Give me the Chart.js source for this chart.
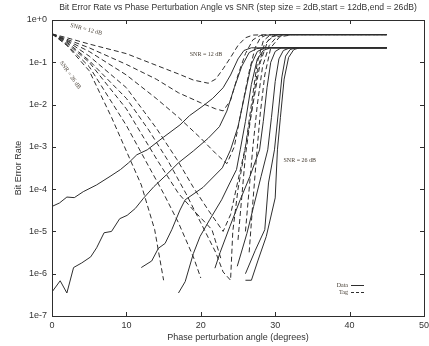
<!DOCTYPE html>
<html>
<head>
<meta charset="utf-8">
<title>Bit Error Rate vs Phase Perturbation Angle</title>
<script src="https://cdn.jsdelivr.net/npm/chart.js@4.4.1/dist/chart.umd.min.js"></script>
<style>
  html, body { margin: 0; padding: 0; background: #fff; }
  #wrap { width: 429px; height: 346px; }
</style>
</head>
<body>
<div id="wrap"><canvas id="berChart" width="429" height="346"></canvas></div>
<script>
// Valori: [unghi (grade), BER]
const snrLevels = [12, 14, 16, 18, 20, 22, 24, 26];

// Curbe "Data" (linie continua)
const data12 = [[0,3.9e-5],[1,4.7e-5],[2,6.5e-5],[3,6.3e-5],[4.2,8.7e-5],[6,1.26e-4],[7.8,2e-4],[9.2,2.9e-4],[10.3,4.2e-4],[11.4,6.5e-4],[12.8,8.5e-4],[15,1.7e-3],[17.2,3.3e-3],[18.5,5.5e-3],[20.3,9.3e-3],[21.6,0.014],[23,0.025],[24,0.05],[25,0.12],[25.8,0.19],[26.8,0.22],[45,0.22]];
const data14 = [[0,3.7e-7],[1.1,6.8e-7],[2,3.5e-7],[2.9,1.4e-6],[4,1.8e-6],[5.2,2.5e-6],[6,4.1e-6],[7,9.3e-6],[8,1e-5],[9.1,2e-5],[10.1,2.4e-5],[11.2,3.5e-5],[12.3,6.1e-5],[13.7,1.15e-4],[15.4,2.2e-4],[17,4.2e-4],[19,8e-4],[21,1.6e-3],[22.5,3e-3],[23.5,7e-3],[24.5,0.025],[25.5,0.08],[26.5,0.17],[27.5,0.21],[28.5,0.22],[45,0.22]];
const data16 = [[12,1.4e-6],[13.4,2e-6],[14.3,4e-6],[15.2,5.2e-6],[16.1,1.1e-5],[17.2,3.2e-5],[17.9,5.6e-5],[20.3,1.1e-4],[22.9,3.2e-4],[24,8.5e-4],[25,3e-3],[26,0.02],[26.8,0.09],[27.6,0.18],[28.6,0.22],[45,0.22]];
const data18 = [[17,3.5e-7],[17.9,6.5e-7],[19,3e-6],[19.9,7.6e-6],[21.2,1.9e-5],[22.8,5.6e-5],[23.9,1.4e-4],[24.8,2.9e-4],[25.3,8.5e-4],[26,4e-3],[26.8,0.03],[27.6,0.12],[28.4,0.19],[29.3,0.22],[45,0.22]];
const data20 = [[21.9,1.35e-6],[22.6,3.2e-6],[23.9,1.3e-5],[25.3,5.6e-5],[26.6,2e-4],[27.9,8.5e-4],[28.4,4e-3],[28.9,0.025],[29.4,0.1],[30,0.18],[30.8,0.22],[45,0.22]];
const data22 = [[24.9,1.5e-6],[26.2,9e-6],[27.1,3.9e-5],[28.1,2e-4],[29,8.5e-4],[29.5,5e-3],[30,0.035],[30.5,0.12],[31.1,0.19],[32,0.22],[45,0.22]];
const data24 = [[26,1e-6],[27.3,3.5e-6],[28.6,1.1e-5],[29.1,1.4e-4],[29.9,8.5e-4],[30.4,6e-3],[30.9,0.045],[31.4,0.14],[32,0.2],[32.8,0.22],[45,0.22]];
const data26 = [[26,7e-7],[26.8,7e-7],[27.7,2.1e-6],[28.8,7.6e-6],[30,6.2e-5],[30.3,8.5e-4],[30.7,5e-3],[31.2,0.04],[31.8,0.13],[32.5,0.2],[33.3,0.22],[45,0.22]];

// Curbe "Tag" (linie intrerupta); null = BER sub 1e-7, nu se deseneaza
const tag12 = [[0,0.47],[2,0.38],[5,0.27],[10,0.16],[14,0.085],[17,0.053],[19,0.038],[21,0.032],[22,0.04],[23,0.07],[24,0.13],[25,0.25],[26,0.38],[27,0.44],[29,0.45],[45,0.45]];
const tag14 = [[0,0.47],[2,0.35],[5,0.22],[10,0.089],[14,0.04],[17,0.019],[20,0.011],[22,0.0079],[23,0.0071],[24,0.0126],[25,0.05],[26,0.16],[27,0.34],[28,0.43],[30,0.45],[45,0.45]];
const tag16 = [[0,0.47],[2,0.33],[5,0.18],[10,0.05],[14,0.014],[17,5e-3],[20,1.6e-3],[22,7e-4],[23.5,4e-4],[24.5,1e-3],[25.5,8e-3],[26.5,0.06],[27.3,0.22],[28,0.38],[28.8,0.44],[30,0.45],[45,0.45]];
const tag18 = [[0,0.47],[2,0.32],[5,0.14],[10,0.025],[14,2.8e-3],[16.8,5e-4],[19,1.1e-4],[21,3.2e-5],[23,1e-5],[24,2.5e-5],[25,1.6e-4],[26,1e-3],[26.8,0.01],[27.6,0.1],[28.4,0.32],[29.3,0.44],[31,0.45],[45,0.45]];
const tag20 = [[0,0.47],[2,0.3],[5,0.11],[10,0.014],[13,2.5e-3],[15.5,5e-4],[18,7.9e-5],[20,1.6e-5],[22,3.2e-6],[23,1.1e-6],[24,7e-7],[24.3,1e-5],[25,1e-4],[26,1e-3],[27,0.01],[28,0.1],[29,0.32],[30,0.44],[31.5,0.45],[45,0.45]];
const tag22 = [[0,0.47],[2,0.28],[5,0.1],[10,7.9e-3],[14.1,5e-4],[17,7.9e-5],[19,3.2e-5],[21.5,1.1e-5],[22.8,2e-6],[23.5,null],[25,6.3e-6],[25.5,6.3e-5],[26,6.3e-4],[26.8,6.3e-3],[27.6,0.063],[28.5,0.25],[29.5,0.4],[30.8,0.45],[45,0.45]];
const tag24 = [[0,0.47],[2,0.26],[5,0.079],[10,3.2e-3],[12.5,5e-4],[15,7.9e-5],[17,1.6e-5],[19,2.5e-6],[20,7.9e-7],[21,null],[26,1e-5],[26.5,1e-4],[27,1e-3],[27.6,0.01],[28.3,0.079],[29.2,0.25],[30.2,0.4],[31.5,0.45],[45,0.45]];
const tag26 = [[0,0.47],[2,0.25],[5,0.063],[8,5e-3],[10.5,5e-4],[12,1.26e-4],[13.8,1.1e-5],[15,7e-7],[16,null],[26.5,3.2e-6],[27,5e-5],[27.5,6.3e-4],[28,6.3e-3],[28.6,0.05],[29.4,0.22],[30.6,0.4],[32.4,0.45],[45,0.45]];

// Axe
const xTickValues = [0, 10, 20, 30, 40, 50];
const xTickLabels = ['0', '10', '20', '30', '40', '50'];
const yTickValues = [1e-7, 1e-6, 1e-5, 1e-4, 1e-3, 1e-2, 1e-1, 1];
const yTickLabels = ['1e-7', '1e-6', '1e-5', '1e-4', '1e-3', '1e-2', '1e-1', '1e+0'];

// Etichete pe grafic: [text, x, BER, rotatie in grade]
const notes = [
    ['SNR = 12 dB', 20.7, 0.15, 0],
    ['SNR = 26 dB', 33.3, 4.7e-4, 0],
    ['SNR = 12 dB', 4.6, 0.6, 15],
    ['SNR = 26 dB', 2.45, 0.05, 55]
];

const chartTitle = 'Bit Error Rate vs Phase Perturbation Angle vs SNR (step size = 2dB,start = 12dB,end = 26dB)';
const sansFont = "'Liberation Sans', Arial, sans-serif";
const serifFont = "'Liberation Serif', 'DejaVu Serif', serif";
const ink = '#2e2e2e';

const dataSeries = [data12, data14, data16, data18, data20, data22, data24, data26];
const tagSeries = [tag12, tag14, tag16, tag18, tag20, tag22, tag24, tag26];

const datasets = [];
snrLevels.forEach((snr, i) => {
    datasets.push({
        label: `Data ${snr} dB`,
        data: dataSeries[i],
        borderColor: ink,
        borderWidth: 1,
        pointRadius: 0,
        tension: 0,
        spanGaps: false
    });
    datasets.push({
        label: `Tag ${snr} dB`,
        data: tagSeries[i],
        borderColor: ink,
        borderWidth: 1,
        borderDash: [5, 3],
        pointRadius: 0,
        tension: 0,
        spanGaps: false
    });
});

// Chenar, tick-uri spre interior, titlu, etichete, legenda (stil gnuplot)
const gnuplotFrame = {
    id: 'gnuplotFrame',
    afterDraw(chart) {
        const { ctx, chartArea: a, scales: { x, y } } = chart;
        ctx.save();
        ctx.strokeStyle = ink;
        ctx.lineWidth = 1;
        ctx.strokeRect(Math.round(a.left) + 0.5, Math.round(a.top) + 0.5,
            Math.round(a.right - a.left), Math.round(a.bottom - a.top));

        ctx.beginPath();
        xTickValues.forEach(v => {
            const px = Math.round(x.getPixelForValue(v)) + 0.5;
            ctx.moveTo(px, a.bottom); ctx.lineTo(px, a.bottom - 4);
            ctx.moveTo(px, a.top); ctx.lineTo(px, a.top + 4);
        });
        yTickValues.forEach(v => {
            const py = Math.round(y.getPixelForValue(v)) + 0.5;
            ctx.moveTo(a.left, py); ctx.lineTo(a.left + 4, py);
            ctx.moveTo(a.right, py); ctx.lineTo(a.right - 4, py);
        });
        ctx.stroke();

        // etichete axa x
        ctx.fillStyle = '#333';
        ctx.font = `9px ${sansFont}`;
        ctx.textAlign = 'center';
        ctx.textBaseline = 'middle';
        xTickValues.forEach((v, i) => {
            ctx.fillText(xTickLabels[i], x.getPixelForValue(v), a.bottom + 10);
        });

        // titlu centrat pe zona de desen
        ctx.font = `8.6px ${sansFont}`;
        ctx.fillText(chartTitle, (a.left + a.right) / 2, 8);

        // etichete SNR
        ctx.fillStyle = '#4a4238';
        ctx.font = `6px ${serifFont}`;
        notes.forEach(([text, nx, ny, rot]) => {
            ctx.save();
            ctx.translate(x.getPixelForValue(nx), y.getPixelForValue(ny));
            ctx.rotate(rot * Math.PI / 180);
            ctx.fillText(text, 0, 0);
            ctx.restore();
        });

        // legenda
        const lx = a.right - 85;
        const ly = a.bottom - 31;
        ctx.textAlign = 'right';
        ctx.fillText('Data', lx + 9, ly);
        ctx.fillText('Tag', lx + 9, ly + 7);
        ctx.beginPath();
        ctx.moveTo(lx + 12, ly + 0.5); ctx.lineTo(lx + 25, ly + 0.5);
        ctx.stroke();
        ctx.setLineDash([3, 2]);
        ctx.beginPath();
        ctx.moveTo(lx + 12, ly + 7.5); ctx.lineTo(lx + 25, ly + 7.5);
        ctx.stroke();
        ctx.restore();
    }
};

const ctx = document.getElementById('berChart').getContext('2d');
new Chart(ctx, {
    type: 'line',
    data: { datasets },
    options: {
        responsive: false,
        animation: false,
        layout: { padding: { top: 20, right: 5, left: 0, bottom: 0 } },
        plugins: {
            legend: { display: false },
            tooltip: { enabled: false },
            title: { display: false }
        },
        scales: {
            x: {
                type: 'linear',
                min: 0,
                max: 50,
                afterBuildTicks: s => { s.ticks = xTickValues.map(v => ({ value: v })); },
                afterFit: s => { s.height = 30; },
                ticks: { display: false },
                grid: { display: false, drawTicks: false },
                border: { display: false },
                title: {
                    display: true,
                    text: 'Phase perturbation angle (degrees)',
                    color: '#333',
                    font: { family: sansFont, size: 9 },
                    padding: { top: 0, bottom: 3 }
                }
            },
            y: {
                type: 'logarithmic',
                min: 1e-7,
                max: 1,
                afterBuildTicks: s => { s.ticks = yTickValues.map(v => ({ value: v })); },
                afterFit: s => { s.width = 52; },
                ticks: {
                    color: '#333',
                    font: { family: sansFont, size: 9 },
                    padding: 5,
                    callback: (v, i) => yTickLabels[i]
                },
                grid: { display: false, drawTicks: false },
                border: { display: false },
                title: {
                    display: true,
                    text: 'Bit Error Rate',
                    color: '#333',
                    font: { family: sansFont, size: 9 },
                    padding: { top: 13, bottom: 0 }
                }
            }
        }
    },
    plugins: [gnuplotFrame]
});
</script>
</body>
</html>
